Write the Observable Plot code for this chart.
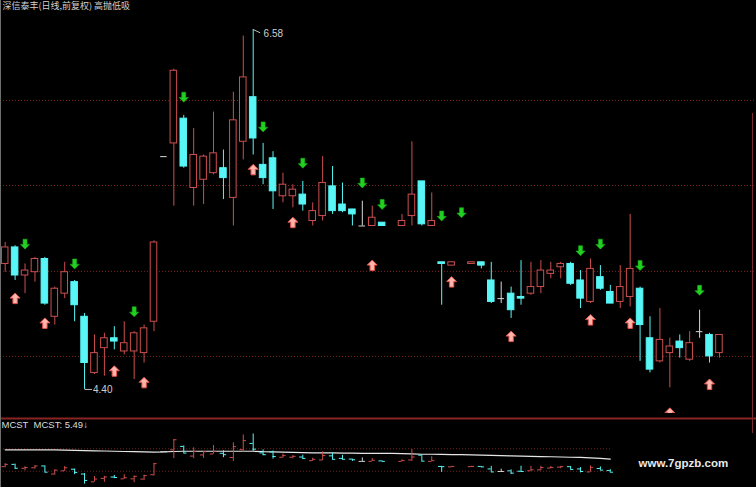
<!DOCTYPE html>
<html><head><meta charset="utf-8">
<script src="https://cdn.jsdelivr.net/npm/d3@7"></script>
<script src="https://cdn.jsdelivr.net/npm/@observablehq/plot@0.6"></script>
<style>
html,body{margin:0;padding:0;background:#000;}
#wrap{position:relative;width:756px;height:487px;overflow:hidden;background:#000;}
#main{position:absolute;left:0;top:0;}
#sub{position:absolute;left:0;top:418px;}
#lb{position:absolute;left:0;top:0;width:1px;height:487px;background:#6e6e6e;}
#rb{position:absolute;left:752px;top:113px;width:1px;height:320px;background:#7a2a2a;}
</style></head><body><div id="wrap"><div id="main"></div><div id="sub"></div><div id="lb"></div><div id="rb"></div></div>
<script>
// ---- data (daily K-line, forward adjusted) ----
const open  = [5.16,5.26,5.09,5.11,5.19,4.84,4.98,5.05,4.84,4.50,4.65,4.71,4.63,4.63,4.62,4.81,5.81,5.89,6.04,5.62,
               5.67,5.71,5.74,5.56,5.90,6.17,5.76,5.80,5.57,5.57,5.58,5.42,5.45,5.63,5.52,5.49,5.39,5.39,5.41,null,
               5.39,5.45,5.66,5.39,5.17,5.15,null,5.16,5.17,5.06,4.95,4.98,4.96,4.98,5.02,5.10,5.14,5.16,5.06,4.93,
               5.08,4.99,4.93,4.96,5.01,4.71,4.57,4.62,4.69,4.58,4.75,4.73,4.62];
const high  = [5.29,5.27,5.16,5.20,5.20,5.02,5.17,5.06,4.86,4.73,4.74,4.78,4.81,4.75,4.79,5.30,5.81,6.34,6.06,5.98,
               5.82,6.08,5.85,6.20,6.54,6.58,5.89,5.84,5.71,5.64,5.66,5.53,5.81,5.75,5.65,5.49,5.54,5.51,5.41,null,
               5.46,5.90,5.66,5.59,5.17,5.17,null,5.17,5.17,5.17,5.05,5.02,5.18,5.17,5.18,5.17,5.17,5.17,5.12,5.19,
               5.15,5.03,5.15,5.46,5.02,4.84,4.89,4.71,4.73,4.75,4.88,4.74,4.73];
const low   = [5.11,5.06,4.98,5.05,4.91,4.79,4.95,4.81,4.40,4.49,4.48,4.64,4.61,4.46,4.56,4.75,5.81,5.51,5.74,5.51,
               5.52,5.70,5.55,5.39,5.79,5.82,5.64,5.49,5.53,5.50,5.48,5.39,5.42,5.46,5.47,5.39,5.39,5.39,5.39,null,
               5.39,5.39,5.39,5.39,4.91,5.15,null,5.16,5.13,4.92,4.92,4.83,4.91,4.97,4.98,5.07,5.07,5.03,4.89,4.92,
               5.00,4.92,4.89,4.90,4.57,4.50,4.56,4.41,4.59,4.57,4.71,4.56,4.59];
const close = [5.26,5.09,5.12,5.19,4.92,5.01,5.11,4.91,4.56,4.62,4.71,4.69,4.68,4.74,4.77,5.29,5.81,6.33,5.75,5.82,
               5.81,5.83,5.68,6.03,6.29,5.92,5.68,5.60,5.64,5.61,5.52,5.48,5.65,5.48,5.48,5.46,5.39,5.44,5.39,null,
               5.42,5.58,5.40,5.42,5.16,5.17,null,5.17,5.15,4.93,4.95,4.88,4.95,5.02,5.12,5.12,5.16,5.04,4.95,5.13,
               5.01,4.92,5.02,5.13,4.79,4.52,4.70,4.66,4.65,4.68,4.75,4.60,4.73];
// sell signals (green down arrows): day index and price level
const sellDay   = [2,7,13,18,26,30,36,38,44,46,58,60,64,70];
const sellPrice = [5.28,5.16,4.87,6.17,5.99,5.77,5.65,5.52,5.45,5.47,5.24,5.28,5.15,5.00];
// buy signals (red up arrows)
const buyDay    = [1,4,11,14,25,29,37,45,51,59,63,67,71];
const buyPrice  = [4.95,4.80,4.51,4.44,5.73,5.41,5.15,5.05,4.72,4.82,4.80,4.255,4.43];
// MCST (market cost) line, sub panel
const mcst = [5.89,5.89,5.89,5.89,5.89,5.89,5.88,5.87,5.86,5.85,5.84,5.83,5.82,5.81,5.80,5.79,5.80,5.82,5.83,5.83,
              5.83,5.83,5.83,5.83,5.83,5.83,5.81,5.80,5.79,5.78,5.77,5.76,5.76,5.76,5.75,5.75,5.74,5.74,5.74,5.74,
              5.73,5.72,5.70,5.70,5.69,5.68,5.68,5.67,5.66,5.65,5.64,5.63,5.62,5.61,5.60,5.59,5.58,5.57,5.56,5.54,
              5.52,5.49];
const mainGrid = [6.15, 5.635, 5.115, 4.60];
const subGrid = [5.94, 4.96];
const hiMark = {day: 25, price: 6.58, label: "6.58"};
const loMark = {day: 8, price: 4.40, label: "4.40"};
const title = "深信泰丰(日线,前复权) 高抛低吸";
const subTitle = "MCST  MCST: 5.49↓";
const watermark = "www.7gpzb.com";

// ---- styles ----
const RED = "#cc4f4f", CYAN = "#58f6f6", WHITE = "#d8d8d8";
const candles = open.map((o, i) => ({i, o, h: high[i], l: low[i], c: close[i]})).filter(d => d.o != null);
const col = d => d.c > d.o ? RED : d.c < d.o ? CYAN : WHITE;
const bodies = candles.filter(d => d.o !== d.c);
const dojis = candles.filter(d => d.o === d.c);
const sells = sellDay.map((i, k) => ({i, p: sellPrice[k]}));
const buys = buyDay.map((i, k) => ({i, p: buyPrice[k]}));
const HW = 0.33;

const upArrow = {draw(ctx) {
  ctx.moveTo(0, -5.5); ctx.lineTo(5, -0.5); ctx.lineTo(2.2, -0.5); ctx.lineTo(2.2, 5);
  ctx.lineTo(-2.2, 5); ctx.lineTo(-2.2, -0.5); ctx.lineTo(-5, -0.5); ctx.closePath();
}};
const downArrow = {draw(ctx) {
  ctx.moveTo(0, 5); ctx.lineTo(4.6, 0.3); ctx.lineTo(2, 0.3); ctx.lineTo(2, -5);
  ctx.lineTo(-2, -5); ctx.lineTo(-2, 0.3); ctx.lineTo(-4.6, 0.3); ctx.closePath();
}};

const xDom = [-0.4738, 75.736];

const main = Plot.plot({
  width: 756, height: 418, marginTop: 0, marginRight: 0, marginLeft: 0, marginBottom: 5,
  x: {type: "linear", domain: xDom, axis: null},
  y: {domain: [4.2542, 6.7557], axis: null},
  style: {background: "#000", overflow: "visible"},
  marks: [
    Plot.ruleY(mainGrid, {stroke: "#7a2222", strokeDasharray: "1,2"}),
    Plot.ruleX(candles, {x: "i", y1: "l", y2: "h", stroke: col}),
    Plot.rect(bodies, {x1: d => d.i - HW, x2: d => d.i + HW, y1: "o", y2: "c",
      fill: d => d.c > d.o ? "#000" : CYAN, stroke: col}),
    Plot.ruleY(dojis, {y: "o", x1: d => d.i - HW, x2: d => d.i + HW, stroke: WHITE}),
    Plot.dot(sells, {x: "i", y: "p", symbol: downArrow, r: 5, fill: "#22d022", stroke: "#18a818", strokeWidth: 0.6}),
    Plot.dot(buys, {x: "i", y: "p", symbol: upArrow, r: 5, fill: "#ffb4ac", stroke: "#e2524a", strokeWidth: 1, clip: "frame"}),
    Plot.link([hiMark], {x1: "day", y1: "price", x2: d => d.day + 0.7, y2: d => d.price - 0.02, stroke: "#bdbdbd"}),
    Plot.text([hiMark], {x: d => d.day + 1.05, y: d => d.price - 0.025, text: "label", textAnchor: "start",
      fill: "#cfcfcf", fontSize: 10, fontFamily: "Liberation Sans, Arial, sans-serif"}),
    Plot.link([loMark], {x1: "day", y1: "price", x2: d => d.day + 0.75, y2: "price", stroke: "#bdbdbd"}),
    Plot.text([loMark], {x: d => d.day + 0.85, y: "price", text: "label", textAnchor: "start",
      fill: "#cfcfcf", fontSize: 10, fontFamily: "Liberation Sans, Arial, sans-serif"}),
    Plot.text([title], {frameAnchor: "top-left", dx: 2, dy: 2, textAnchor: "start", lineAnchor: "top",
      fill: "#d2d2d2", fontSize: 9, fontFamily: "Noto Sans CJK SC, sans-serif"})
  ]
});
document.getElementById("main").append(main);

const subBars = candles.filter(d => d.i <= 61);
const mcstData = mcst.map((v, i) => ({i, v}));
const sub = Plot.plot({
  width: 756, height: 69, margin: 0,
  x: {type: "linear", domain: xDom, axis: null},
  y: {domain: [4.254, 7.254], axis: null},
  style: {background: "#000", overflow: "visible"},
  marks: [
    Plot.frame({anchor: "top", stroke: "#8a2424", strokeWidth: 2}),
    Plot.ruleY(subGrid, {x1: xDom[0], x2: 61.1, stroke: "#6e2020", strokeDasharray: "1,2"}),
    Plot.line(mcstData, {x: "i", y: "v", stroke: "#e6e6e6", strokeWidth: 1.2}),
    Plot.ruleX(subBars, {x: "i", y1: "l", y2: "h", stroke: col}),
    Plot.ruleY(subBars, {y: "o", x1: d => d.i - 0.32, x2: "i", stroke: col}),
    Plot.ruleY(subBars, {y: "c", x1: "i", x2: d => d.i + 0.32, stroke: col}),
    Plot.text([subTitle], {frameAnchor: "top-left", dx: 1, dy: 3, textAnchor: "start", lineAnchor: "top",
      fill: "#dcdcdc", fontSize: 9.5, fontFamily: "Liberation Sans, Arial, sans-serif"}),
    Plot.text([watermark], {frameAnchor: "top-left", dx: 638, dy: 45, textAnchor: "start", lineAnchor: "middle",
      fill: "#e8e8e8", fontSize: 11.5, fontWeight: "bold", fontFamily: "Liberation Sans, Arial, sans-serif"})
  ]
});
document.getElementById("sub").append(sub);
</script></body></html>
